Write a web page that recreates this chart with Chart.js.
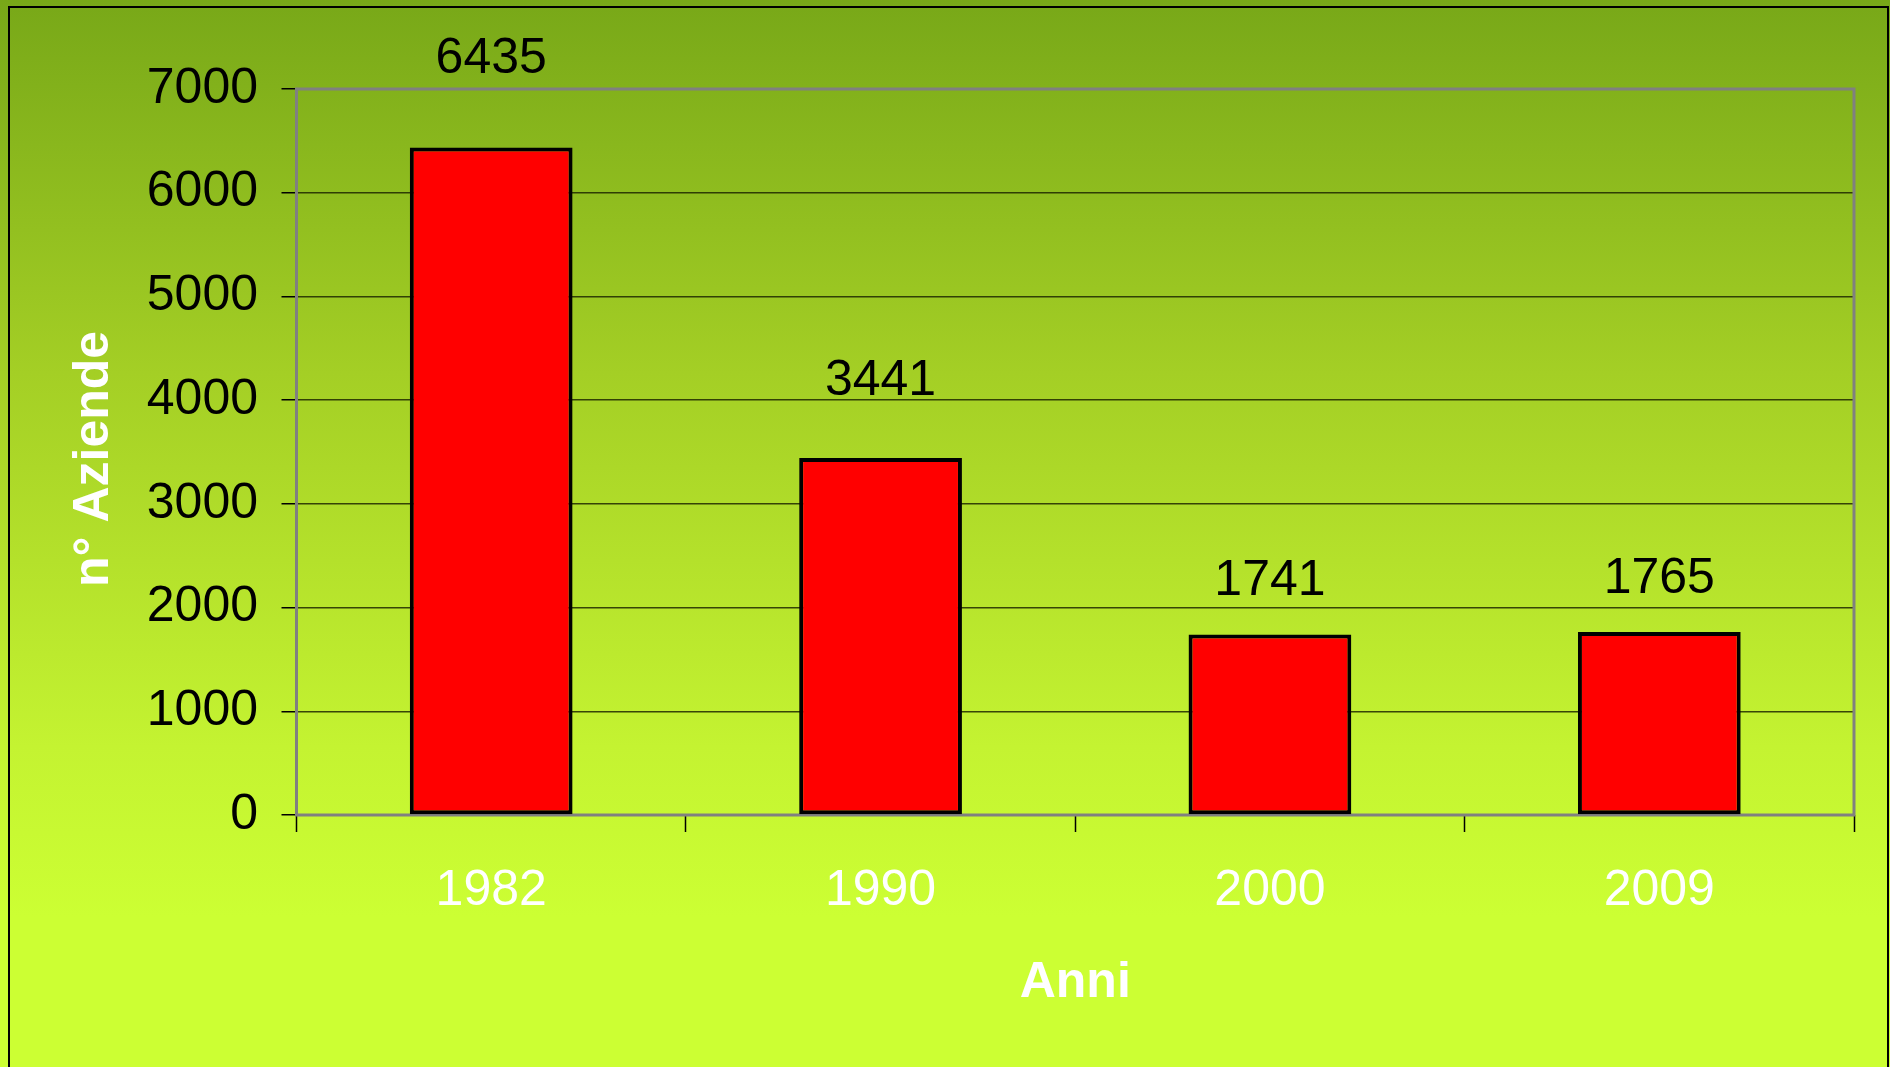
<!DOCTYPE html>
<html>
<head>
<meta charset="utf-8">
<script src="https://cdn.jsdelivr.net/npm/chart.js@4"></script>
<style>
html, body {
    margin: 0; padding: 0; width: 1890px; height: 1067px; overflow: hidden;
    background: linear-gradient(to bottom, #78a818 0%, #a4cf25 35%, #c4f331 70%, #ccff33 86%, #ccff33 100%);
}
#frame { position: absolute; left: 8px; top: 6px; width: 1881px; height: 1080px; border: 2px solid #000; box-sizing: border-box; }
#c { position: absolute; left: 0; top: 0; }
</style>
</head>
<body>
<div id="frame"></div>
<canvas id="c" width="1890" height="1067"></canvas>
<script>
// Dati
const anni = ['1982', '1990', '2000', '2009'];
const aziende = [6435, 3441, 1741, 1765];
const yMin = 0, yMax = 7000, yStep = 1000;

const FONT = "'Liberation Sans', Arial, sans-serif";

// Etichette valore sopra le barre
const valueLabels = {
    id: 'valueLabels',
    afterDatasetsDraw(chart, args, opts) {
        const ctx = chart.ctx;
        const meta = chart.getDatasetMeta(0);
        ctx.save();
        ctx.font = `50px ${FONT}`;
        ctx.fillStyle = '#000';
        ctx.textAlign = 'center';
        ctx.textBaseline = 'middle';
        meta.data.forEach((bar, i) => {
            const v = chart.data.datasets[0].data[i];
            ctx.fillText(String(v), bar.x, bar.y - opts.offsets[i]);
        });
        ctx.restore();
    }
};

// Cornice grigia dell'area del grafico
const plotFrame = {
    id: 'plotFrame',
    beforeDatasetsDraw(chart) {
        const a = chart.chartArea, ctx = chart.ctx;
        ctx.save();
        ctx.strokeStyle = '#808080';
        ctx.lineWidth = 3;
        ctx.strokeRect(a.left, a.top, a.right - a.left, a.bottom - a.top);
        ctx.restore();
    }
};

new Chart(document.getElementById('c').getContext('2d'), {
    type: 'bar',
    data: {
        labels: anni,
        datasets: [{
            data: aziende,
            backgroundColor: '#ff0000',
            borderColor: '#000',
            borderWidth: 4,
            borderSkipped: false,
            barPercentage: 0.418,
            categoryPercentage: 1
        }]
    },
    plugins: [plotFrame, valueLabels],
    options: {
        responsive: false,
        animation: false,
        layout: { padding: { top: 89, right: 36, left: 0, bottom: 0 } },
        plugins: {
            legend: { display: false },
            tooltip: { enabled: false },
            valueLabels: { offsets: [88, 77, 53, 53] }
        },
        scales: {
            x: {
                grid: { display: true, drawOnChartArea: false, drawTicks: true, tickLength: 17, tickColor: '#000', tickWidth: 1.5 },
                border: { display: false },
                ticks: { color: '#fff', font: { family: FONT, size: 50 }, padding: 29 },
                title: { display: true, text: 'Anni', color: '#fff', font: { family: FONT, size: 50, weight: 'bold' }, padding: { top: 0, bottom: 54 } },
                afterFit: s => { s.height = 252; }
            },
            y: {
                min: yMin, max: yMax,
                grid: { color: 'rgba(30,40,0,0.85)', lineWidth: 1.5, tickLength: 15, tickColor: '#000' },
                border: { display: false },
                ticks: { stepSize: yStep, color: '#000', font: { family: FONT, size: 50 }, padding: 23.5, callback: v => String(v) },
                title: { display: true, text: 'n° Aziende ', color: '#fff', font: { family: FONT, size: 50, weight: 'bold' }, padding: { top: 64, bottom: 0 } },
                afterFit: s => { s.width = 296.5; }
            }
        }
    }
});
</script>
</body>
</html>
